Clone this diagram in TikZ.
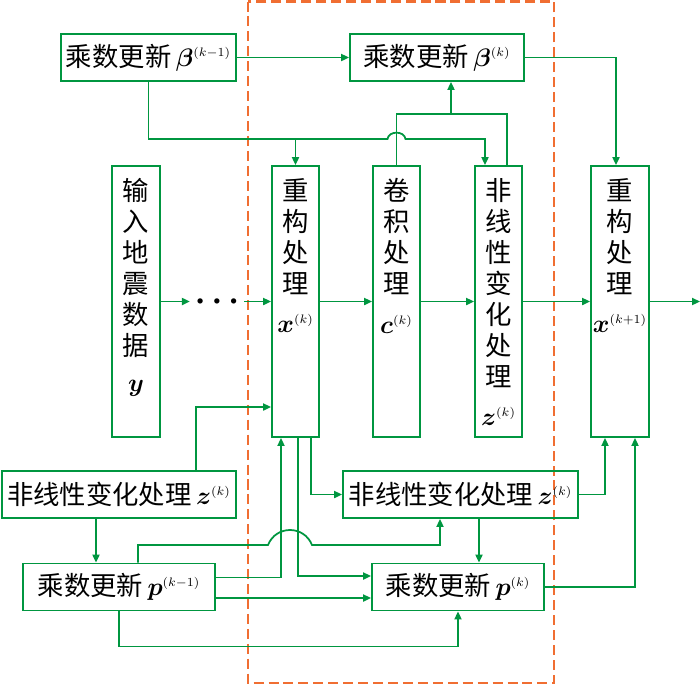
\documentclass[tikz,border=0pt]{standalone}
\usepackage{fontspec}
\setmainfont{Noto Sans CJK SC}
\usepackage{amsmath}
\usepackage{bm}
\usetikzlibrary{arrows.meta, positioning, calc}
\definecolor{flowgreen}{RGB}{0,150,64}
\definecolor{iterorange}{RGB}{240,110,50}
\tikzset{
  block/.style={rectangle, draw=flowgreen, line width=1.1pt, minimum height=0.94cm,
    inner sep=0pt, text=black, font=\fontsize{15}{17.6}\selectfont},
  colblock/.style={block, minimum height=5.42cm},
  arrow/.style={-{Triangle[length=4.5pt,width=4pt]}, line width=1pt, color=flowgreen},
  link/.style={line width=1pt, color=flowgreen},
  dashbox/.style={draw=iterorange, line width=1.3pt, dash pattern=on 5.7pt off 2.8pt},
}
\newcommand{\colstack}[2]{\parbox[c][5.42cm][t]{#1}{\centering\vspace*{0.25cm}#2}}
\newcommand{\iter}[1]{^{\scriptscriptstyle(#1)}}

\begin{document}
\begin{tikzpicture}
  \useasboundingbox (0,0) rectangle (14,-13.7);
  % iteration k
  \draw[dashbox] (4.96,-0.03) rectangle (11.08,-13.66);

  \node[block, minimum width=3.5cm] (bk1) at (2.97,-1.15) {乘数更新\,$\bm{\beta}\iter{k-1}$};
  \node[block, minimum width=3.48cm] (bk) at (8.74,-1.15) {乘数更新\,$\bm{\beta}\iter{k}$};

  \node[colblock] (inp) at (2.72,-6.03) {\colstack{0.96cm}{输\\入\\地\\震\\数\\据\\[3pt]$\bm{y}$}};
  \node[inner xsep=0.13cm, inner ysep=0pt] (dots) at (4.34,-6.03)
    {\fontsize{7}{7}\selectfont$\bullet\hspace{3.6pt}\bullet\hspace{3.6pt}\bullet$};
  \node[colblock] (xk) at (5.91,-6.03) {\colstack{0.94cm}{重\\构\\处\\理\\[5pt]$\bm{x}\iter{k}$}};
  \node[colblock] (ck) at (7.93,-6.03) {\colstack{0.94cm}{卷\\积\\处\\理\\[5pt]$\bm{c}\iter{k}$}};
  \node[colblock] (zkv) at (9.97,-6.03) {\colstack{0.94cm}{非\\线\\性\\变\\化\\处\\理\\[5pt]$\bm{z}\iter{k}$}};
  \node[colblock] (xk1) at (12.40,-6.03) {\colstack{1.16cm}{重\\构\\处\\理\\[5pt]$\bm{x}\iter{k+1}$}};
  \coordinate (out) at (14,-6.03);

  \node[block, minimum width=4.68cm] (zl) at (2.38,-9.89) {非线性变化处理\,$\bm{z}\iter{k}$};
  \node[block, minimum width=4.7cm] (zr) at (9.21,-9.89) {非线性变化处理\,$\bm{z}\iter{k}$};
  \node[block, minimum width=3.84cm] (pk1) at (2.38,-11.74) {乘数更新\,$\bm{p}\iter{k-1}$};
  \node[block, minimum width=3.44cm] (pk) at (9.16,-11.74) {乘数更新\,$\bm{p}\iter{k}$};

  % multiplier beta
  \draw[arrow] (bk1) -- (bk);
  \draw[arrow] (bk1.south) |- ($(xk.north)+(0,0.52)$) -- (xk.north);
  \draw[arrow] ($(xk.north)+(0,0.52)$) -- ($(ck.north)+(-0.18,0.52)$)
    .. controls ($(ck.north)+(-0.16,0.69)$) and ($(ck.north)+(0.16,0.69)$) .. ($(ck.north)+(0.18,0.52)$)
    -| ([xshift=-0.27cm]zkv.north);
  \coordinate (join) at (9.02,-2.28);
  \draw[link] (ck.north) |- (join);
  \draw[link] ([xshift=0.17cm]zkv.north) |- (join);
  \draw[arrow] (join) -- (join |- bk.south);
  \draw[arrow] (bk.east) -| ([xshift=-0.08cm]xk1.north);

  % main chain
  \draw[arrow] (inp) -- (dots);
  \draw[arrow] (dots) -- (xk);
  \draw[arrow] (xk) -- (ck);
  \draw[arrow] (ck) -- (zkv);
  \draw[arrow] (zkv) -- (xk1);
  \draw[arrow] (xk1) -- (out);

  % lower branch
  \draw[arrow] ([xshift=1.54cm]zl.north) |- ([yshift=-2.11cm]xk.west);
  \draw[arrow] ([xshift=-0.46cm]zl.south) -- ([xshift=-0.46cm]pk1.north);
  \draw[arrow] ([xshift=0.38cm]pk1.north) |- (5.36,-10.9)
    .. controls (5.52,-10.5) and (6.08,-10.5) .. (6.24,-10.9)
    -| ([xshift=-0.41cm]zr.south);
  \draw[arrow] ([yshift=0.19cm]pk1.east) -| ([xshift=-0.29cm]xk.south);
  \draw[arrow] ([yshift=-0.22cm]pk1.east) -- ([yshift=-0.22cm]pk.west);
  \draw[arrow] (pk1.south) -- ++(0,-0.7) -| (pk.south);
  \draw[arrow] ([xshift=0.05cm]xk.south) |- ([yshift=0.22cm]pk.west);
  \draw[arrow] ([xshift=0.31cm]xk.south) |- (zr.west);
  \draw[arrow] (zr.east) -| ([xshift=-0.3cm]xk1.south);
  \draw[arrow] ([xshift=0.37cm]zr.south) -- ([xshift=0.37cm]zr.south |- pk.north);
  \draw[arrow] (pk.east) -| ([xshift=0.3cm]xk1.south);
\end{tikzpicture}
\end{document}
